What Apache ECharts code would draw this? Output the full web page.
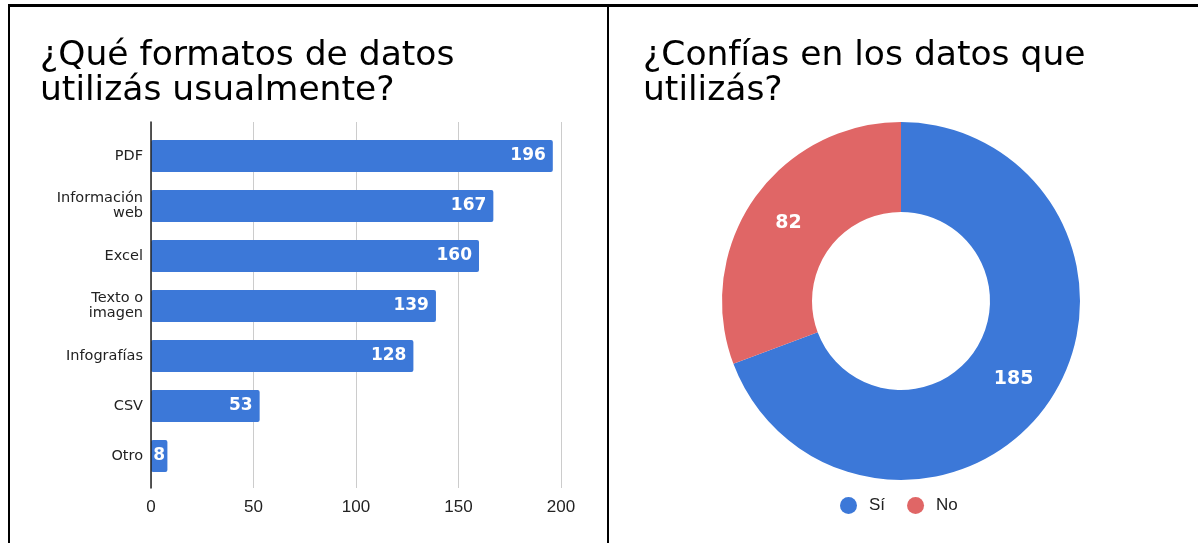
<!DOCTYPE html>
<html>
<head>
<meta charset="utf-8">
<script src="https://cdn.jsdelivr.net/npm/echarts@6/dist/echarts.min.js"></script>
<style>
  html, body { margin: 0; padding: 0; background: #fff; }
  #chart { width: 1198px; height: 543px; }
  .rule { position: absolute; background: #000; pointer-events: none; }
</style>
</head>
<body>
<div id="chart"></div>
<div class="rule" style="left:8px; top:4px; width:1190px; height:3px;"></div>
<div class="rule" style="left:8px; top:4px; width:2px; height:539px;"></div>
<div class="rule" style="left:607px; top:4px; width:2px; height:539px;"></div>
<script>
// formatos de datos (barras)
var formatos = ['PDF', 'Información\nweb', 'Excel', 'Texto o\nimagen', 'Infografías', 'CSV', 'Otro'];
var formatosValores = [196, 167, 160, 139, 128, 53, 8];
var ejeTicks = [0, 50, 100, 150, 200];

// confianza (dona)
var confianza = ['Sí', 'No'];
var confianzaValores = [185, 82];
var colores = ['#3c78d8', '#e06666'];

var chart = echarts.init(document.getElementById('chart'));

var titleStyle = {
    fontFamily: 'DejaVu Sans',
    fontSize: 34.5,
    fontWeight: 'normal',
    lineHeight: 35,
    color: '#000'
};

var xMin = ejeTicks[0];
var xMax = ejeTicks[ejeTicks.length - 1];
var xStep = ejeTicks[1] - ejeTicks[0];

var barData = formatosValores.map(function (v) {
    // barras muy cortas: etiqueta centrada para que quepa
    if (v < 20) {
        return { value: v, label: { position: 'inside' } };
    }
    return v;
});

var option = {
    animation: false,
    title: [
        { text: '¿Qué formatos de datos\nutilizás usualmente?', left: 35, top: 34, textStyle: titleStyle },
        { text: '¿Confías en los datos que\nutilizás?', left: 638, top: 34, textStyle: titleStyle }
    ],
    legend: {
        data: confianza,
        left: 835,
        top: 492,
        icon: 'circle',
        itemWidth: 17,
        itemHeight: 17,
        itemGap: 22,
        textStyle: { fontFamily: 'Liberation Sans', fontSize: 17, color: '#222', padding: [0, 0, 0, 7] }
    },
    grid: [
        { left: 151, top: 131, width: 410, height: 350 },
        // capa de fondo: lineas de division y eje algo mas largas que las bandas
        { left: 151, top: 122, width: 410, height: 366 }
    ],
    xAxis: [
        {
            type: 'value',
            gridIndex: 0,
            min: xMin,
            max: xMax,
            interval: xStep,
            axisLine: { show: false },
            axisTick: { show: false },
            splitLine: { show: false },
            axisLabel: { fontFamily: 'Liberation Sans', fontSize: 17, color: '#222', margin: 18 }
        },
        {
            type: 'value',
            gridIndex: 1,
            min: xMin,
            max: xMax,
            interval: xStep,
            z: 0,
            axisLine: { show: false },
            axisTick: { show: false },
            axisLabel: { show: false },
            splitLine: { lineStyle: { color: '#ccc', width: 1 } }
        }
    ],
    yAxis: [
        {
            type: 'category',
            gridIndex: 0,
            inverse: true,
            data: formatos,
            axisLine: { show: false },
            axisTick: { show: false },
            axisLabel: { fontFamily: 'DejaVu Sans', fontSize: 14.5, color: '#222', margin: 8, lineHeight: 15 }
        },
        {
            type: 'value',
            gridIndex: 1,
            z: 5,
            axisLine: { show: true, lineStyle: { color: '#222', width: 1.5 } },
            axisTick: { show: false },
            axisLabel: { show: false },
            splitLine: { show: false }
        }
    ],
    series: [
        {
            type: 'bar',
            xAxisIndex: 0,
            yAxisIndex: 0,
            data: barData,
            barWidth: 32,
            itemStyle: { color: colores[0], borderRadius: 2 },
            label: {
                show: true,
                position: 'insideRight',
                distance: 7,
                color: '#fff',
                fontFamily: 'DejaVu Sans',
                fontWeight: 'bold',
                fontSize: 17
            }
        },
        {
            type: 'pie',
            center: [901, 301],
            radius: [89, 179],
            startAngle: 90,
            color: colores,
            data: confianza.map(function (n, i) { return { name: n, value: confianzaValores[i] }; }),
            label: {
                show: true,
                position: 'inside',
                formatter: '{c}',
                color: '#fff',
                fontFamily: 'DejaVu Sans',
                fontWeight: 'bold',
                fontSize: 19
            },
            labelLine: { show: false },
            itemStyle: { borderWidth: 0 }
        }
    ]
};

chart.setOption(option);
</script>
</body>
</html>
